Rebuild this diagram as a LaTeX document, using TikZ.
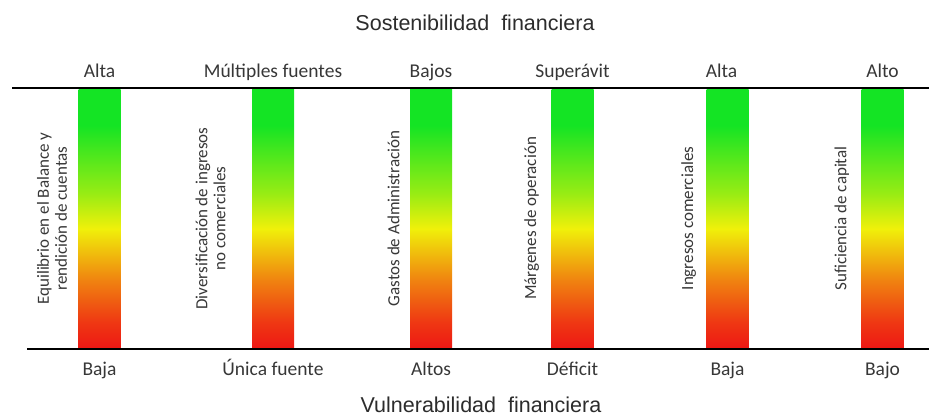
\documentclass[tikz,border=0pt]{standalone}
\usepackage{fontspec}
\setmainfont{Carlito}
\newfontfamily\titlefont{Liberation Sans}
\usetikzlibrary{positioning}

\definecolor{barred}{RGB}{238,24,20}
\definecolor{barorange}{RGB}{240,130,16}
\definecolor{baryellow}{RGB}{240,240,10}
\definecolor{barlime}{RGB}{150,236,20}
\definecolor{bargreen}{RGB}{20,228,36}
\definecolor{labelgray}{RGB}{55,55,55}

\pgfdeclareverticalshading{semaforo}{100bp}{%
    color(0bp)=(barred); color(25bp)=(barred); color(30bp)=(barred!70!barorange);
    color(38bp)=(barorange); color(48bp)=(baryellow); color(55bp)=(barlime);
    color(68bp)=(bargreen); color(100bp)=(bargreen)}

\tikzset{
    bar/.style={
        rectangle,
        shade,
        shading=semaforo,
        minimum width=42pt,
        minimum height=259pt,
        inner sep=0pt
    },
    rule/.style={draw=black, line width=2.8pt},
    toplabel/.style={
        anchor=base,
        text=labelgray,
        font=\fontsize{19.5}{21}\selectfont
    },
    sidetext/.style={
        rotate=90,
        anchor=south,
        align=center,
        inner sep=0pt,
        text=labelgray,
        font=\fontsize{17}{18}\selectfont
    },
    title/.style={
        text=labelgray!80!black,
        font=\titlefont\fontsize{21.5}{23}\selectfont
    }
}

\begin{document}
\begin{tikzpicture}[x=1pt, y=-1pt]
    \useasboundingbox (0,0) rectangle (929,418);

    \coordinate (top base) at (0,77);
    \coordinate (bottom base) at (0,375);

    \node[bar] (b1) at (99.5,218.5) {};
    \node[bar] (b2) at (273,218.5) {};
    \node[bar] (b3) at (431,218.5) {};
    \node[bar] (b4) at (572.5,218.5) {};
    \node[bar] (b5) at (727.5,218.5) {};
    \node[bar] (b6) at (882.5,218.5) {};

    \coordinate (top left) at (12,88);
    \coordinate (top right) at (929,88);
    \coordinate (bottom left) at (27,349);
    \coordinate (bottom right) at (929,349);
    \draw[rule] (top left) -- (top right);
    \draw[rule] (bottom left) -- (bottom right);

    \node[title] (sostenibilidad) at (475,23) {Sostenibilidad\ \ financiera};
    \node[title] (vulnerabilidad) at (481,405) {Vulnerabilidad\ \ financiera};

    \node[toplabel] (alta1) at (b1.north |- top base) {Alta};
    \node[toplabel] (multiples) at (b2.north |- top base) {Múltiples fuentes};
    \node[toplabel] (bajos) at (b3.north |- top base) {Bajos};
    \node[toplabel] (superavit) at (b4.north |- top base) {Superávit};
    \node[toplabel, xshift=-6pt] (alta2) at (b5.north |- top base) {Alta};
    \node[toplabel] (alto) at (b6.north |- top base) {Alto};

    \node[toplabel] (baja1) at (b1.south |- bottom base) {Baja};
    \node[toplabel] (unica) at (b2.south |- bottom base) {Única fuente};
    \node[toplabel] (altos) at (b3.south |- bottom base) {Altos};
    \node[toplabel] (deficit) at (b4.south |- bottom base) {Déficit};
    \node[toplabel] (baja2) at (b5.south |- bottom base) {Baja};
    \node[toplabel] (bajo) at (b6.south |- bottom base) {Bajo};

    \node[sidetext, left=11pt of b1, anchor=south] (equilibrio) {Equilibrio en el Balance y\\rendición de cuentas};
    \node[sidetext, left=20pt of b2, anchor=south, yshift=6pt] (diversificacion) {Diversificación de ingresos\\no comerciales};
    \node[sidetext, left=10pt of b3, anchor=south] (gastos) {Gastos de Administración};
    \node[sidetext, left=12pt of b4, anchor=south] (margenes) {Márgenes de operación};
    \node[sidetext, left=10pt of b5, anchor=south] (ingresos) {Ingresos comerciales};
    \node[sidetext, left=12pt of b6, anchor=south] (suficiencia) {Suficiencia de capital};
\end{tikzpicture}
\end{document}
